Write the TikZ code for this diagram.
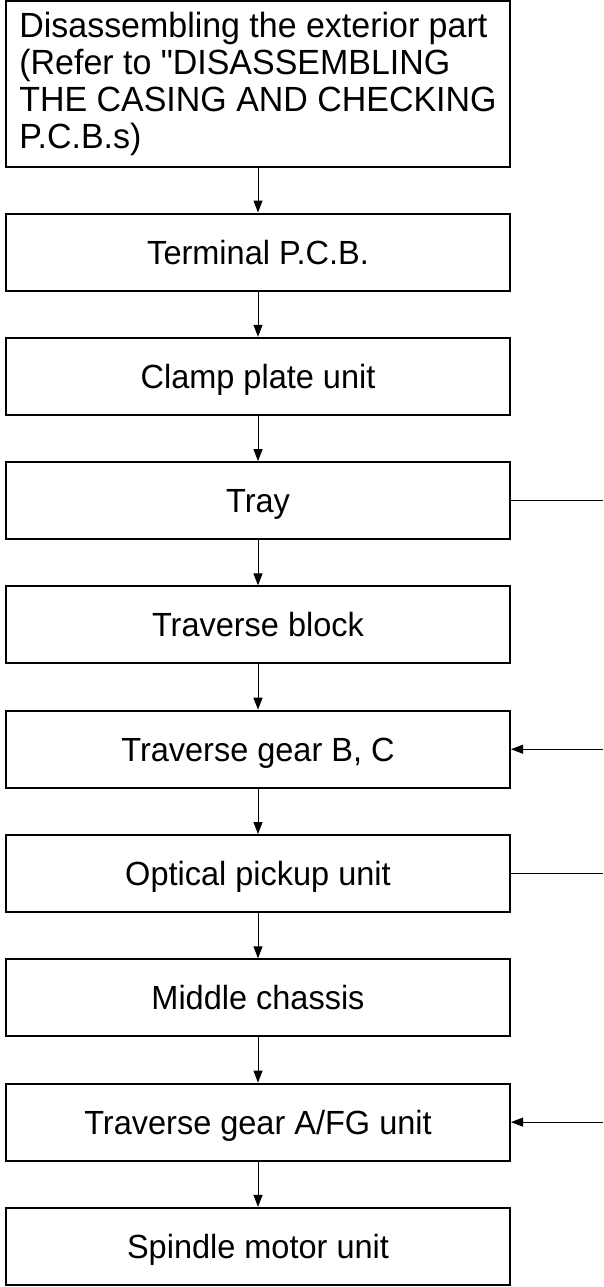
\documentclass[tikz,border=0pt]{standalone}
\usepackage{fontspec}
\setmainfont{Liberation Sans}[FakeStretch=0.97]
\newfontfamily\plainq{Liberation Sans}[FakeStretch=0.97]
\usetikzlibrary{arrows.meta}
\tikzset{
  stage/.style  ={draw=black, line width=2pt, minimum width=504pt, minimum height=77pt,
                  inner sep=0pt, font=\fontsize{33.5}{37}\selectfont, text height=24pt, text depth=0pt},
  stagew/.style ={draw=black, line width=2pt, minimum width=504pt, minimum height=165.5pt,
                  inner sep=0pt, align=left, font=\fontsize{35}{37}\selectfont},
  lnk/.style    ={draw=black, line width=1pt, -{Triangle[length=12pt,width=9pt]}},
  side/.style   ={draw=black, line width=1pt},
}

\begin{document}
\begin{tikzpicture}[x=1pt,y=1pt]
  \useasboundingbox (0,0) rectangle (603,-1287);
  % steps
  \node[stagew] (ext) at (258,-84.25) {Disassembling the exterior part\\
    (Refer to {\plainq"}DISASSEMBLING\\ THE CASING AND CHECKING\\ P.C.B.s)};
  \node[stage] (term)    at (258,-252)    {Terminal P.C.B.};
  \node[stage] (clamp)   at (258,-376.3)  {Clamp plate unit};
  \node[stage] (tray)    at (258,-500.6)  {Tray};
  \node[stage] (trav)    at (258,-624.9)  {Traverse block};
  \node[stage] (gearbc)  at (258,-749.2)  {Traverse gear B, C};
  \node[stage] (pickup)  at (258,-873.5)  {Optical pickup unit};
  \node[stage] (chassis) at (258,-997.8)  {Middle chassis};
  \node[stage] (gearfg)  at (258,-1122.1) {Traverse gear A/FG unit};
  \node[stage] (spindle) at (258,-1246.4) {Spindle motor unit};
  % main chain
  \draw[lnk] (ext) -- (term);
  \draw[lnk] (term) -- (clamp);
  \draw[lnk] (clamp) -- (tray);
  \draw[lnk] (tray) -- (trav);
  \draw[lnk] (trav) -- (gearbc);
  \draw[lnk] (gearbc) -- (pickup);
  \draw[lnk] (pickup) -- (chassis);
  \draw[lnk] (chassis) -- (gearfg);
  \draw[lnk] (gearfg) -- (spindle);
  % side branches
  \coordinate (trayout)   at (603,-500.6);
  \coordinate (gearbcin)  at (603,-749.2);
  \coordinate (pickupout) at (603,-873.5);
  \coordinate (gearfgin)  at (603,-1122.1);
  \draw[side] (tray.east) -- (trayout);
  \draw[lnk] (gearbcin) -- (gearbc.east);
  \draw[side] (pickup.east) -- (pickupout);
  \draw[lnk] (gearfgin) -- (gearfg.east);
\end{tikzpicture}
\end{document}
